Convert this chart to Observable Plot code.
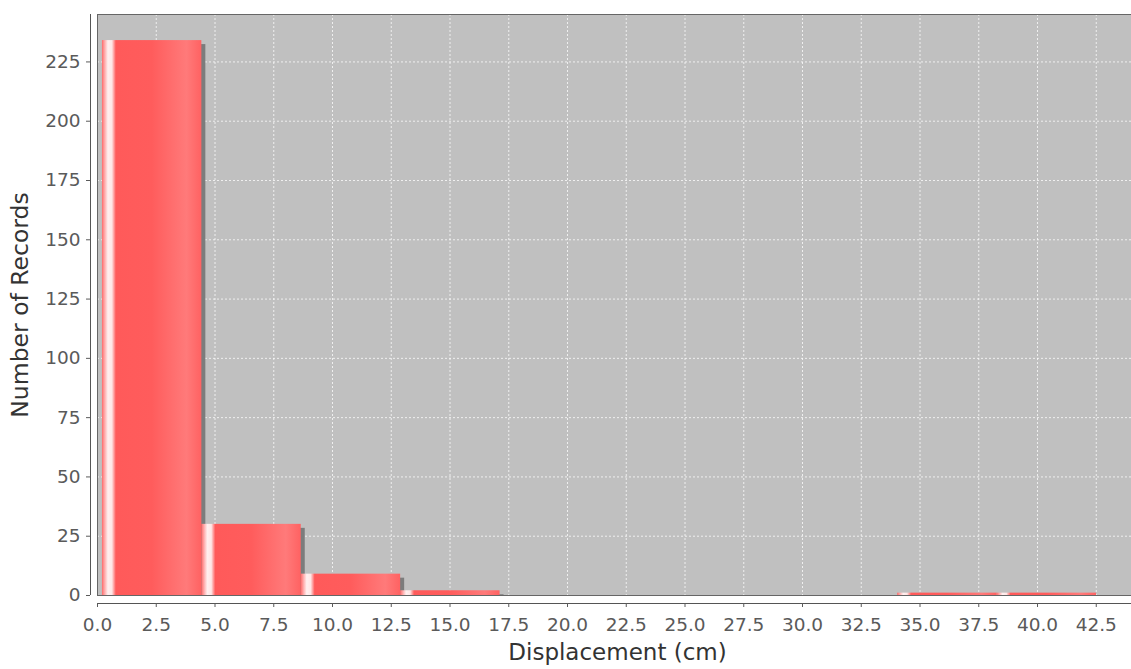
<!DOCTYPE html>
<html><head><meta charset="utf-8">
<script src="https://cdn.jsdelivr.net/npm/d3@7"></script>
<script src="https://cdn.jsdelivr.net/npm/@observablehq/plot@0.6"></script>
<style>body{margin:0;background:#fff;} svg{display:block;}</style>
</head><body><div id="chart"></div>
<script>
const binStart = [0.21, 4.44, 8.67, 12.90, 17.13, 21.36, 25.59, 29.82, 34.05, 38.28];
const binEnd   = [4.44, 8.67, 12.90, 17.13, 21.36, 25.59, 29.82, 34.05, 38.28, 42.51];
const counts   = [234, 30, 9, 2, 0, 0, 0, 0, 1, 1];
const xTicks = [0, 2.5, 5, 7.5, 10, 12.5, 15, 17.5, 20, 22.5, 25, 27.5, 30, 32.5, 35, 37.5, 40, 42.5];
const yTicks = [0, 25, 50, 75, 100, 125, 150, 175, 200, 225];
const xLabel = "Displacement (cm)";
const yLabel = "Number of Records";

const bins = counts.map((c, i) => ({x1: binStart[i], x2: binEnd[i], count: c}));

const chart = Plot.plot({
  width: 1131, height: 669,
  marginLeft: 97, marginRight: 0, marginTop: 14, marginBottom: 74,
  style: {fontFamily: "'DejaVu Sans', sans-serif", background: "#fff"},
  x: {domain: [0, 44], label: null},
  y: {domain: [0, 245], label: null},
  marks: [
    Plot.frame({fill: "#c0c0c0"}),
    Plot.gridX(xTicks, {stroke: "#fff", strokeOpacity: 0.75, strokeDasharray: "2,2"}),
    Plot.gridY(yTicks, {stroke: "#fff", strokeOpacity: 0.75, strokeDasharray: "2,2"}),
    Plot.rectY(bins, {x1: "x1", x2: "x2", y: "count", dx: 4, dy: 4, fill: "#7c7c7c", clip: true}),
    Plot.rectY(bins, {x1: "x1", x2: "x2", y: "count", fill: "url(#barGrad)"}),
    Plot.frame({stroke: "#666"}),
    Plot.ruleY([0], {dy: 8, stroke: "#555"}),
    Plot.ruleX([0], {dx: -7, stroke: "#555"}),
    Plot.axisX(xTicks, {dy: 8, tickSize: 4, tickPadding: 10, tickFormat: d => d.toFixed(1), fontSize: 18.5, color: "#5a5a5a", label: null}),
    Plot.axisY(yTicks, {dx: -7, tickSize: 4, tickPadding: 6, fontSize: 18.5, color: "#5a5a5a", label: null}),
    Plot.text([xLabel], {frameAnchor: "bottom", text: d => d, dy: 64, dx: 3, fontSize: 23, fill: "#333"}),
    Plot.text([yLabel], {frameAnchor: "left", textAnchor: "middle", text: d => d, rotate: -90, dx: -77, fontSize: 23.5, fill: "#333"})
  ]
});

const svg = d3.select(chart);
const grad = svg.insert("defs", ":first-child").append("linearGradient")
  .attr("id", "barGrad").attr("x1", "0").attr("x2", "1").attr("y1", "0").attr("y2", "0");
[["0%", "#ff6a6a"], ["3%", "#ffb0b0"], ["6%", "#fff0f0"], ["10%", "#ffe6e6"], ["14%", "#ff5a5a"],
 ["50%", "#ff5c5c"], ["85%", "#ff7a7a"], ["100%", "#ff6262"]]
  .forEach(([o, c]) => grad.append("stop").attr("offset", o).attr("stop-color", c));

document.getElementById("chart").appendChild(chart);
</script>
</body></html>
